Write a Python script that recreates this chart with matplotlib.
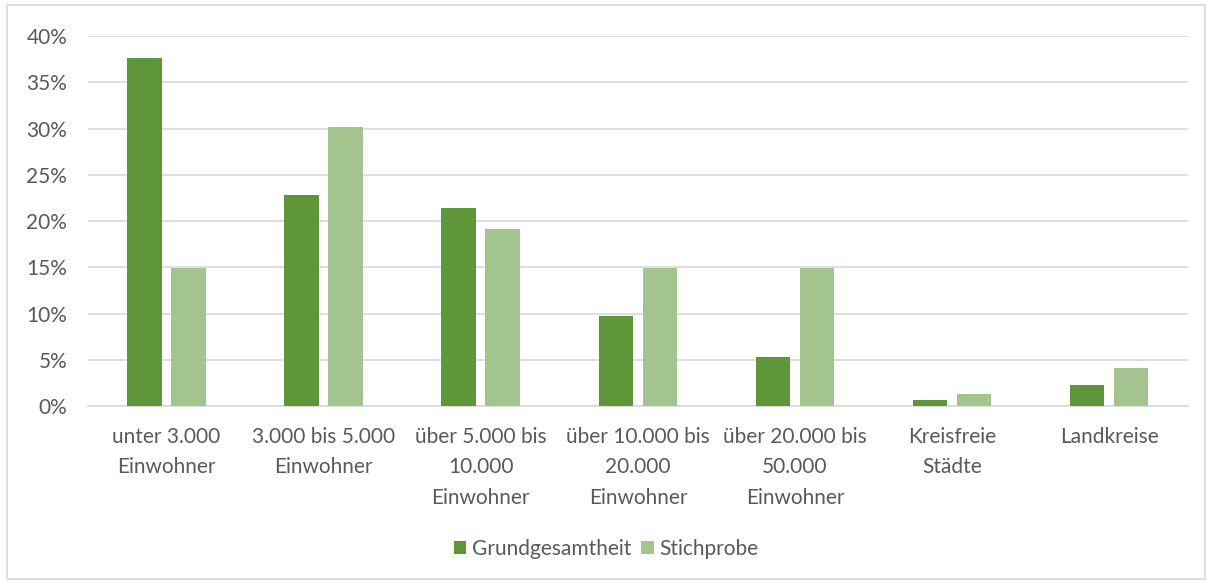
import numpy as np
import matplotlib.pyplot as plt
from matplotlib.patches import Rectangle
from matplotlib.ticker import PercentFormatter

categories = ['unter 3.000\nEinwohner', '3.000 bis 5.000\nEinwohner',
              'über 5.000 bis\n10.000\nEinwohner', 'über 10.000 bis\n20.000\nEinwohner',
              'über 20.000 bis\n50.000\nEinwohner', 'Kreisfreie\nStädte', 'Landkreise']
grundgesamtheit = [37.6, 22.8, 21.4, 9.7, 5.3, 0.65, 2.3]
stichprobe = [14.9, 30.2, 19.1, 14.9, 14.9, 1.3, 4.1]

plt.rcParams['font.family'] = ['Lato', 'DejaVu Sans']
text_col = '#595959'
dark = '#5f9639'
light = '#a3c48f'
fs = 15

fig = plt.figure(figsize=(12.12, 5.82), dpi=100)
ax = fig.add_axes([0.0726, 0.3024, 0.9074, 0.6356])

x = np.arange(len(categories))
w = 0.22
ax.bar(x - 0.14, grundgesamtheit, w, color=dark, label='Grundgesamtheit', zorder=3)
ax.bar(x + 0.14, stichprobe, w, color=light, label='Stichprobe', zorder=3)

ax.set_xlim(-0.5, len(categories) - 0.5)
ax.set_ylim(0, 40)
ax.set_yticks(np.arange(0, 41, 5))
ax.yaxis.set_major_formatter(PercentFormatter(decimals=0))
ax.set_xticks(x)
ax.set_xticklabels(categories, linespacing=1.65)
ax.tick_params(axis='both', length=0, labelsize=fs, colors=text_col)
ax.tick_params(axis='x', pad=15)
ax.tick_params(axis='y', pad=15)
ax.grid(axis='y', color='#d9d9d9', linewidth=1.2, zorder=0)
for s in ['top', 'right', 'left']:
    ax.spines[s].set_visible(False)
ax.spines['bottom'].set_color('#d9d9d9')
ax.spines['bottom'].set_linewidth(1.2)

fig.legend(loc='center', bbox_to_anchor=(0.5, 0.057), ncol=2, frameon=False,
           fontsize=fs, labelcolor=text_col, handlelength=0.6, handleheight=0.6,
           handletextpad=0.25, columnspacing=0.5)

fig.patches.append(Rectangle((0.006, 0.006), 0.988, 0.985, transform=fig.transFigure,
                             fill=False, edgecolor='#d9d9d9', linewidth=1.2))

fig.savefig('out.png', dpi=100)
